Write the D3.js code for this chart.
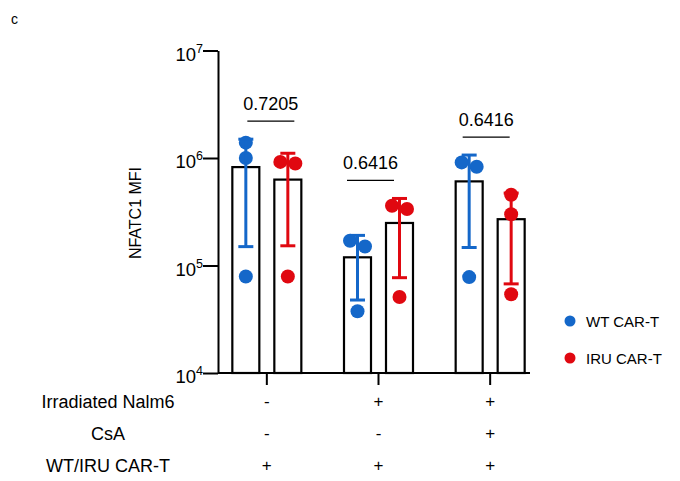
<!DOCTYPE html>
<html lang="en">
<head>
  <meta charset="UTF-8">
  <script src="https://cdn.jsdelivr.net/npm/d3@7/dist/d3.min.js"></script>
  <title>NFATC1 MFI</title>
  <style>
    body { margin: 0; background: #fff; }
    text { font-family: Arial, "Liberation Sans", sans-serif; fill: #000; }
  </style>
</head>
<body>
  <script>
    // data
    const groups = ['g1', 'g2', 'g3']
    const series = ['WT CAR-T', 'IRU CAR-T']
    const wtValues = [
      [1.39e6, 1.0e6, 7.9e4],
      [1.70e5, 1.50e5, 3.75e4],
      [9.1e5, 8.3e5, 7.8e4]
    ]
    const iruValues = [
      [9.2e5, 8.9e5, 7.9e4],
      [3.6e5, 3.35e5, 5.1e4],
      [4.55e5, 3.0e5, 5.4e4]
    ]
    const pValues = ['0.7205', '0.6416', '0.6416']
    const yTicks = [1e4, 1e5, 1e6, 1e7]
    const rowLabels = ['Irradiated Nalm6', 'CsA', 'WT/IRU CAR-T']
    const nalm6 = ['-', '+', '+']
    const csa = ['-', '-', '+']
    const carT = ['+', '+', '+']

    const colors = ['#1467c9', '#e00810']
    const bracketShift = [4, -8, -4]

    const width = 680, height = 481
    const svg = d3.select('body').append('svg')
        .attr('width', width)
        .attr('height', height)

    const x = d3.scaleBand().domain(groups).range([211, 546]).padding(0)
    const sub = d3.scalePoint().domain(series).range([-21, 21])
    const y = d3.scaleLog().domain([1e4, 1e7]).range([373, 50.5])
    const cx = (gi, si) => x(groups[gi]) + x.bandwidth() / 2 + sub(series[si])

    const barW = 27, capW = 7.5, r = 7

    const stats = groups.map((g, gi) => [wtValues[gi], iruValues[gi]].map(vals => {
      const m = d3.mean(vals), sd = d3.deviation(vals)
      return { vals, mean: m, lo: m - sd, hi: m + sd }
    }))

    // bars
    groups.forEach((g, gi) => {
      stats[gi].forEach((s, si) => {
        svg.append('rect')
            .attr('x', cx(gi, si) - barW / 2)
            .attr('y', y(s.mean))
            .attr('width', barW)
            .attr('height', y(1e4) - y(s.mean))
            .attr('fill', 'white')
            .attr('stroke', 'black')
            .attr('stroke-width', 2.2)
      })
    })

    // points with a simple dodge when two overlap
    groups.forEach((g, gi) => {
      stats[gi].forEach((s, si) => {
        const pts = s.vals.map(v => ({ v, py: y(v), dx: 0 })).sort((a, b) => a.py - b.py)
        for (let i = 0; i < pts.length - 1; i++) {
          if (pts[i + 1].py - pts[i].py < 2 * r && pts[i].dx === 0) {
            pts[i].dx = -7.5
            pts[i + 1].dx = 7.5
            i++
          }
        }
        svg.append('g').selectAll('circle')
          .data(pts)
          .join('circle')
            .attr('cx', d => cx(gi, si) + d.dx)
            .attr('cy', d => d.py)
            .attr('r', r)
            .attr('fill', colors[si])
      })
    })

    // error bars (mean +/- SD)
    groups.forEach((g, gi) => {
      stats[gi].forEach((s, si) => {
        const c = cx(gi, si)
        const eb = svg.append('g')
            .attr('stroke', colors[si])
            .attr('stroke-width', 3)
        eb.append('line').attr('x1', c).attr('x2', c).attr('y1', y(s.lo)).attr('y2', y(s.hi))
        eb.append('line').attr('x1', c - capW).attr('x2', c + capW).attr('y1', y(s.lo)).attr('y2', y(s.lo))
        eb.append('line').attr('x1', c - capW).attr('x2', c + capW).attr('y1', y(s.hi)).attr('y2', y(s.hi))
      })
    })

    // p-value brackets
    groups.forEach((g, gi) => {
      const top = d3.min(stats[gi], s => y(s.hi)) - 18
      const mid = x(g) + x.bandwidth() / 2 + bracketShift[gi]
      svg.append('line')
          .attr('x1', mid - 23.5).attr('x2', mid + 23.5)
          .attr('y1', top).attr('y2', top)
          .attr('stroke', 'black')
          .attr('stroke-width', 1.3)
      svg.append('text')
          .attr('x', mid)
          .attr('y', top - 11.5)
          .attr('text-anchor', 'middle')
          .style('font-size', '18px')
          .text(pValues[gi])
    })

    // y axis
    const yAxis = svg.append('g')
        .attr('transform', 'translate(218,0)')
        .call(d3.axisLeft(y).tickValues(yTicks).tickSize(15).tickSizeOuter(0).tickFormat(''))
    yAxis.selectAll('path, line').attr('stroke', 'black').attr('stroke-width', 2)

    const yLab = svg.append('g').selectAll('text')
      .data(yTicks)
      .join('text')
        .attr('x', 203)
        .attr('y', d => y(d) + 10)
        .attr('text-anchor', 'end')
    yLab.append('tspan').style('font-size', '18.5px').text('10')
    yLab.append('tspan').attr('dy', -8).style('font-size', '12.5px').text(d => Math.round(Math.log10(d)))

    svg.append('text')
        .attr('transform', 'translate(141,213) rotate(-90)')
        .attr('text-anchor', 'middle')
        .style('font-size', '16px')
        .text('NFATC1 MFI')

    // x axis
    const xAxis = svg.append('g')
        .attr('transform', `translate(0,${y(1e4)})`)
        .call(d3.axisBottom(x).tickSize(12).tickSizeOuter(0).tickFormat(''))
    xAxis.select('.domain').attr('d', 'M218,0H530')
    xAxis.selectAll('path, line').attr('stroke', 'black').attr('stroke-width', 2)

    // condition table
    const rows = [nalm6, csa, carT]
    const rowY = [408, 440, 472]
    rows.forEach((row, ri) => {
      svg.append('text')
          .attr('x', 108)
          .attr('y', rowY[ri])
          .attr('text-anchor', 'middle')
          .style('font-size', '18px')
          .text(rowLabels[ri])
      svg.append('g').selectAll('text')
        .data(row)
        .join('text')
          .attr('x', (d, i) => x(groups[i]) + x.bandwidth() / 2)
          .attr('y', rowY[ri] - 1)
          .attr('text-anchor', 'middle')
          .style('font-size', '17px')
          .text(d => d)
    })

    // legend
    const legend = svg.append('g').selectAll('g')
      .data(series)
      .join('g')
        .attr('transform', (d, i) => `translate(570,${321 + i * 37})`)
    legend.append('circle').attr('r', 5.5).attr('fill', (d, i) => colors[i])
    legend.append('text')
        .attr('x', 16)
        .attr('y', 6)
        .style('font-size', '15px')
        .text(d => d)

    svg.append('text')
        .attr('x', 11)
        .attr('y', 24)
        .style('font-size', '14px')
        .text('c')
  </script>
</body>
</html>
